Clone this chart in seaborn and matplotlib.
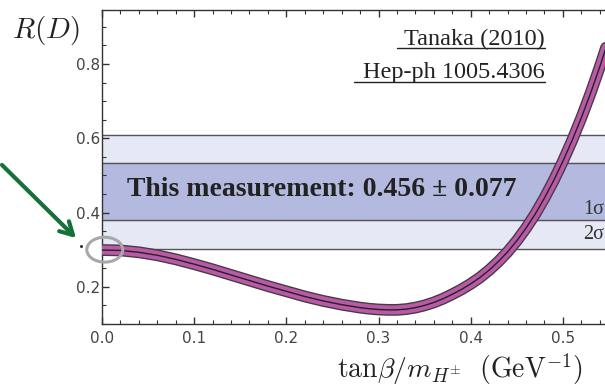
import matplotlib
matplotlib.use('Agg')
import matplotlib.pyplot as plt
from matplotlib.patches import Ellipse
from matplotlib.ticker import MultipleLocator, FormatStrFormatter
import seaborn as sns

# curve: tan(beta)/m_H  ->  R(D)
tan_over_m = [0.00, 0.02, 0.04, 0.06, 0.08, 0.10, 0.12, 0.14, 0.16, 0.18,
              0.20, 0.22, 0.24, 0.26, 0.28, 0.29, 0.30, 0.31, 0.32, 0.33,
              0.34, 0.35, 0.36, 0.37, 0.38, 0.39, 0.40, 0.41, 0.42, 0.43,
              0.44, 0.45, 0.46, 0.47, 0.48, 0.49, 0.50, 0.51, 0.52, 0.53,
              0.54, 0.55]
r_d = [0.299, 0.298, 0.293, 0.285, 0.274, 0.261, 0.247, 0.232, 0.217, 0.202,
       0.188, 0.174, 0.162, 0.152, 0.144, 0.141, 0.139, 0.138, 0.138, 0.140,
       0.144, 0.150, 0.158, 0.168, 0.180, 0.193, 0.208, 0.225, 0.245, 0.268,
       0.294, 0.324, 0.358, 0.396, 0.439, 0.486, 0.538, 0.594, 0.655, 0.721,
       0.792, 0.868]

meas = 0.456
sigma = 0.077

sns.set_style('ticks')
plt.rcParams['mathtext.fontset'] = 'cm'

fig = plt.figure(figsize=(6.05, 3.88), dpi=100)
ax = fig.add_axes([0.1686, 0.165, 0.8314, 0.809])

# measurement bands
ax.axhspan(meas - 2 * sigma, meas + 2 * sigma, color='#e6e8f5', zorder=0)
ax.axhspan(meas - sigma, meas + sigma, color='#b3b9df', zorder=0.5)
for yv in [meas - 2 * sigma, meas - sigma, meas + sigma, meas + 2 * sigma]:
    ax.axhline(yv, color='#555555', lw=1, zorder=1)

# theory band: dark edge, magenta fill, black centre
sns.lineplot(x=tan_over_m, y=r_d, ax=ax, color='#4a3a48', lw=8.5, sort=False, zorder=3)
sns.lineplot(x=tan_over_m, y=r_d, ax=ax, color='#b85aa6', lw=6.5, sort=False, zorder=4)
sns.lineplot(x=tan_over_m, y=r_d, ax=ax, color='#222222', lw=1.0, sort=False, zorder=5)

ax.set_xlim(0, 0.5457)
ax.set_ylim(0.1, 0.945)
ax.xaxis.set_major_locator(MultipleLocator(0.1))
ax.xaxis.set_minor_locator(MultipleLocator(0.02))
ax.yaxis.set_major_locator(MultipleLocator(0.2))
ax.yaxis.set_minor_locator(MultipleLocator(0.05))
ax.xaxis.set_major_formatter(FormatStrFormatter('%.1f'))
ax.yaxis.set_major_formatter(FormatStrFormatter('%.1f'))
ax.tick_params(which='both', direction='in', top=True, color='#333333',
               labelcolor='#444444', labelsize=11)
ax.tick_params(which='major', length=5, width=1)
ax.tick_params(which='minor', length=3, width=0.8)
ax.tick_params(axis='y', pad=1)
ax.tick_params(axis='x', pad=5)
ax.spines['right'].set_visible(False)
for s in ['left', 'top', 'bottom']:
    ax.spines[s].set_color('#333333')
    ax.spines[s].set_linewidth(1)

ax.text(0.238, meas + 0.005, 'This measurement: 0.456 \u00b1 0.077', ha='center', va='center',
        fontsize=20, fontweight='bold', family='Liberation Serif', color='#222222', zorder=2)
ax.text(0.5452, 0.407, '1\u03c3', ha='right', va='center', fontsize=14.5,
        family='Liberation Serif', color='#333333', zorder=2)
ax.text(0.5452, 0.340, '2\u03c3', ha='right', va='center', fontsize=14.5,
        family='Liberation Serif', color='#333333', zorder=2)

ax.text(0.4804, 0.852, 'Tanaka (2010)', ha='right', va='baseline', fontsize=17.5,
        family='Liberation Serif', color='#222222')
ax.text(0.4804, 0.763, 'Hep-ph 1005.4306', ha='right', va='baseline', fontsize=17.5,
        family='Liberation Serif', color='#222222')
ax.plot([0.3196, 0.4804], [0.842, 0.842], color='#222222', lw=1)
ax.plot([0.273, 0.4804], [0.752, 0.752], color='#222222', lw=1)

ax.add_patch(Ellipse((0.003, 0.30), 0.039, 0.067, fill=False, ec='#a8a8a8', lw=2.2,
                     clip_on=False, zorder=6))

fig.text(0.02, 0.922, r'$R(D)$', fontsize=21, color='#222222', ha='left', va='center')
fig.text(0.963, 0.048, r'$\mathrm{tan}\beta/m_{H^{\pm}}\ \ (\mathrm{GeV}^{-1})$', fontsize=20,
         color='#222222', ha='right', va='center')

fig.add_artist(plt.Line2D([81 / 605], [1 - 246 / 388], marker='o', ms=1.2, color='#333333'))
ax.annotate('', xy=(78 / 605, 1 - 240 / 388), xycoords='figure fraction',
            xytext=(0, 1 - 163 / 388), textcoords='figure fraction',
            arrowprops=dict(arrowstyle='->,head_length=0.9,head_width=0.5',
                            color='#16703a', lw=3), annotation_clip=False)

fig.savefig('out.png', dpi=100)
